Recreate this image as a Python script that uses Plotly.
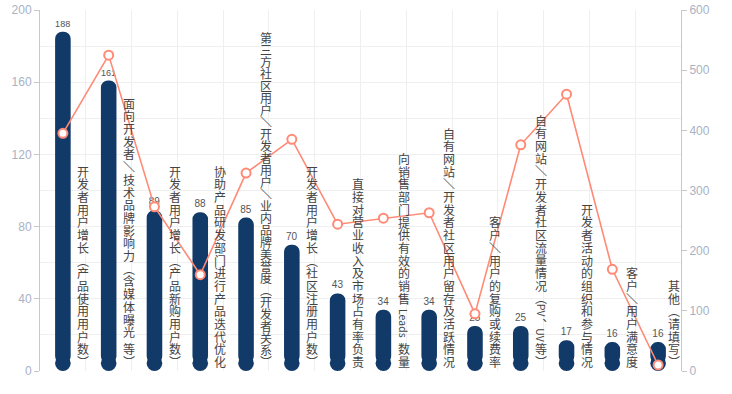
import plotly.graph_objects as go

categories = [
    "开发者用户增长（产品使用用户数）",
    "面向开发者/技术品牌影响力（含媒体曝光 等）",
    "开发者用户增长（产品新购用户数）",
    "协助产品研发部门进行产品迭代优化",
    "第三方社区用户/开发者用户/业内品牌美誉度（开发者关系）",
    "开发者用户增长（社区注册用户数）",
    "直接对营业收入及市场占有率负责",
    "向销售部门提供有效的销售 Leads 数量",
    "自有网站/开发者社区用户留存及活跃情况",
    "客户/用户的复购或续费率",
    "自有网站/开发者社区流量情况（PV、UV等）",
    "开发者活动的组织和参与情况",
    "客户/用户满意度",
    "其他（请填写）",
]
bar_values = [188, 161, 89, 88, 85, 70, 43, 34, 34, 25, 25, 17, 16, 16]
line_values = [395, 525, 273, 160, 329, 385, 244, 254, 263, 95, 376, 460, 169, 10]
left_ticks = [0, 40, 80, 120, 160, 200]
right_ticks = [0, 100, 200, 300, 400, 500, 600]

BAR_COLOR = "#123a68"
LINE_COLOR = "#ff8a76"
PLOT_H = 361.0
PLOT_W = 641.0
Y_MAX = 200
BAR_W = 0.34
bar_px = BAR_W * PLOT_W / len(categories)
r_units = (bar_px / 2) * Y_MAX / PLOT_H

x = list(range(len(categories)))

fig = go.Figure()
# bar body from the radius up, rounded top
fig.add_trace(go.Bar(
    x=x, y=[v - r_units for v in bar_values], base=[r_units] * len(x),
    width=BAR_W, marker=dict(color=BAR_COLOR, line=dict(width=0)),
    text=[str(v) for v in bar_values], textposition="outside",
    textfont=dict(size=10, color="#555555", family="Liberation Sans"),
    cliponaxis=False, showlegend=False, hoverinfo="skip",
))
# rounded bottom cap
fig.add_trace(go.Scatter(
    x=x, y=[r_units] * len(x), mode="markers",
    marker=dict(symbol="circle", size=bar_px, color=BAR_COLOR, line=dict(width=0)),
    showlegend=False, hoverinfo="skip",
))
fig.add_trace(go.Scatter(
    x=x, y=line_values, yaxis="y2", mode="lines+markers",
    line=dict(color=LINE_COLOR, width=1.6),
    marker=dict(symbol="circle", size=9, color="white",
                line=dict(color=LINE_COLOR, width=2)),
    showlegend=False, cliponaxis=False,
))

# vertical-writing category labels
punct = {"（": "︵", "）": "︶", "/": "＼", "、": "︑"}
CJK_ADV = 12.7
LAT_ADV = 5.4
SPACE_ADV = 4.5
BOTTOM_PAD = 3.0
MAX_LABEL_PX = 337.0


def tokenize(s):
    toks = []
    buf = ""
    for ch in s:
        if ch.isascii() and ch.isalnum():
            buf += ch
            continue
        if buf:
            toks.append(("lat", buf))
            buf = ""
        if ch == " ":
            toks.append(("sp", ch))
        else:
            toks.append(("cjk", punct.get(ch, ch)))
    if buf:
        toks.append(("lat", buf))
    return toks


def advance(kind, t):
    if kind == "sp":
        return SPACE_ADV
    if kind == "cjk":
        return CJK_ADV
    return LAT_ADV * len(t) + 2


annotations = []
for i, label in enumerate(categories):
    xpos = min(i + 0.44, len(categories) - 0.66)
    toks = tokenize(label)
    total = sum(advance(k, t) for k, t in toks)
    scale = min(1.0, MAX_LABEL_PX / total)
    cursor = BOTTOM_PAD
    for kind, t in reversed(toks):
        adv = advance(kind, t) * scale
        if kind == "sp":
            cursor += adv
            continue
        center = cursor + adv / 2
        cursor += adv
        annotations.append(dict(
            x=xpos, y=0, xref="x", yref="y", text=t, showarrow=False,
            xanchor="center", yanchor="middle", yshift=center,
            textangle=0 if kind == "cjk" else 90,
            font=dict(size=12 if kind == "cjk" else 10.5, color="#444444",
                      family="Noto Sans CJK SC"),
        ))

fig.update_layout(
    width=732, height=394,
    margin=dict(l=40, r=51, t=10, b=23, autoexpand=False),
    paper_bgcolor="white", plot_bgcolor="white",
    barmode="overlay", barcornerradius="50%",
    annotations=annotations,
    xaxis=dict(range=[-0.5, len(categories) - 0.5], automargin=False,
               tickvals=[k + 0.5 for k in range(len(categories) - 1)],
               showticklabels=False, showgrid=True, gridcolor="#efefef",
               gridwidth=1, zeroline=False, showline=False, ticks=""),
    yaxis=dict(range=[0, 200], tickvals=left_ticks, showgrid=True, automargin=False,
               gridcolor="#efefef", zeroline=False, showline=True,
               linecolor="#c8c8c8", ticks="outside", ticklen=5,
               tickcolor="#c8c8c8",
               tickfont=dict(size=12, color="#a9b2c3", family="Liberation Sans"),
               minor=dict(dtick=20, showgrid=True, gridcolor="#efefef", ticks="")),
    yaxis2=dict(range=[0, 600], tickvals=right_ticks, overlaying="y", automargin=False,
                side="right", showgrid=False, zeroline=False, showline=True,
                linecolor="#c8c8c8", ticks="outside", ticklen=5,
                tickcolor="#c8c8c8",
                tickfont=dict(size=12, color="#a9b2c3", family="Liberation Sans")),
)

fig.write_html("out.html", config={"displayModeBar": False},
               post_script="document.body.style.margin='0';")
